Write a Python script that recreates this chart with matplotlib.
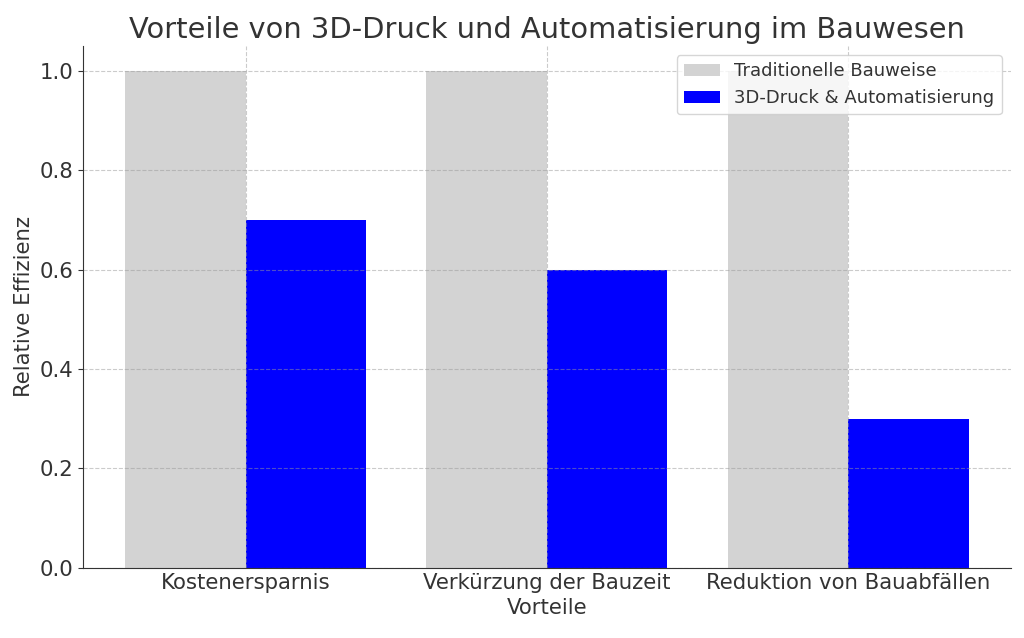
import numpy as np
import matplotlib
matplotlib.use('Agg')
from matplotlib import pyplot as plt

# Data
categories = ['Kostenersparnis', 'Verkürzung der Bauzeit', 'Reduktion von Bauabfällen']
traditional = [1.0, 1.0, 1.0]
printing = [0.7, 0.6, 0.3]
series_labels = ['Traditionelle Bauweise', '3D-Druck & Automatisierung']

text_col = '#333333'
plt.rcParams['text.color'] = text_col
plt.rcParams['axes.labelcolor'] = text_col
plt.rcParams['xtick.color'] = text_col
plt.rcParams['ytick.color'] = text_col

fig, ax = plt.subplots(figsize=(10.24, 6.38), dpi=100)

x = np.arange(len(categories))
width = 0.4
ax.bar(x - width / 2, traditional, width, label=series_labels[0], color='lightgray')
ax.bar(x + width / 2, printing, width, label=series_labels[1], color='blue')

ax.set_title('Vorteile von 3D-Druck und Automatisierung im Bauwesen', fontsize=20.8)
ax.set_xlabel('Vorteile', fontsize=15.3)
ax.set_ylabel('Relative Effizienz', fontsize=15.3)
ax.set_xticks(x)
ax.set_xticklabels(categories, fontsize=15.3)
ax.tick_params(axis='y', labelsize=15.3)
ax.tick_params(axis='x', length=0)
# grid sits over the bars, but faint
ax.grid(True, linestyle='--', color='#999999', alpha=0.5, linewidth=0.8)
ax.spines['top'].set_visible(False)
ax.spines['right'].set_visible(False)
ax.spines['left'].set_color(text_col)
ax.spines['bottom'].set_color(text_col)
ax.legend(fontsize=13, loc='upper right')

fig.subplots_adjust(left=0.081, right=0.987, top=0.928, bottom=0.11)
plt.savefig('out.png')
